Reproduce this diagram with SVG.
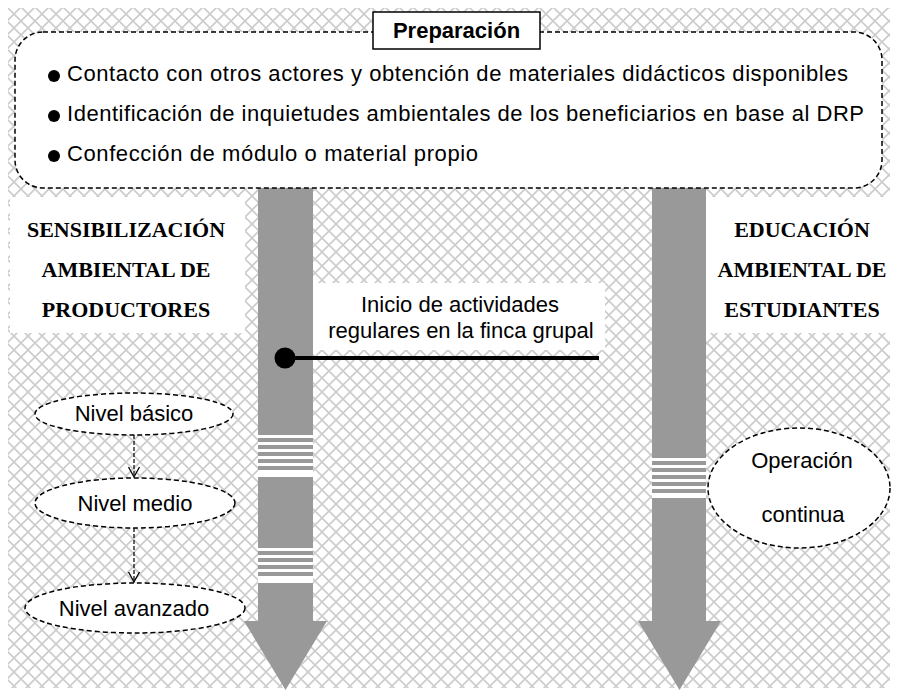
<svg xmlns="http://www.w3.org/2000/svg" width="897" height="692" viewBox="0 0 897 692">
<defs>
<pattern id="hatch" width="14" height="14" patternUnits="userSpaceOnUse">
<rect width="14" height="14" fill="#ffffff"/>
<path d="M-1,-1 L15,15 M15,-1 L-1,15" stroke="#cccccc" stroke-width="1.6" fill="none"/>
</pattern>
<marker id="vhead" markerWidth="14" markerHeight="14" refX="11" refY="7" orient="auto" markerUnits="userSpaceOnUse">
<path d="M1,1.5 L11,7 L1,12.5" fill="none" stroke="#000" stroke-width="1.3"/>
</marker>
</defs>
<style>
.sans{font-family:"Liberation Sans",Arial,sans-serif;font-size:22px;fill:#000}
.serif{font-family:"Liberation Serif","Times New Roman",serif;font-size:22px;font-weight:bold;fill:#000}
.dash{fill:#fff;stroke:#000;stroke-width:1.5;stroke-dasharray:5,3}
.shaft{fill:#999999}
.band{fill:#999999}
.white{fill:#ffffff}
</style>
<rect width="897" height="692" fill="#ffffff"/>
<rect x="8" y="8" width="882" height="680" fill="url(#hatch)"/>

<g id="arrow-left">
<rect class="shaft" x="258" y="180" width="55" height="442"/>
<polygon class="shaft" points="244,621 327,621 285.5,690"/>
<rect class="white" x="258" y="435" width="55" height="42"/>
<rect class="band" x="258" y="438" width="55" height="4"/>
<rect class="band" x="258" y="445" width="55" height="4"/>
<rect class="band" x="258" y="452" width="55" height="4"/>
<rect class="band" x="258" y="459" width="55" height="4"/>
<rect class="band" x="258" y="466" width="55" height="4"/>
<rect class="white" x="258" y="548" width="55" height="35"/>
<rect class="band" x="258" y="551" width="55" height="4"/>
<rect class="band" x="258" y="558" width="55" height="4"/>
<rect class="band" x="258" y="565" width="55" height="4"/>
<rect class="band" x="258" y="572" width="55" height="4"/>
</g>

<g id="arrow-right">
<rect class="shaft" x="652" y="180" width="54" height="442"/>
<polygon class="shaft" points="638,621 721,621 679.5,690"/>
<rect class="white" x="652" y="458" width="54" height="40"/>
<rect class="band" x="652" y="461" width="54" height="4"/>
<rect class="band" x="652" y="468" width="54" height="4"/>
<rect class="band" x="652" y="475" width="54" height="4"/>
<rect class="band" x="652" y="482" width="54" height="4"/>
<rect class="band" x="652" y="489" width="54" height="4"/>
</g>

<g id="preparacion">
<rect class="dash" x="15" y="32" width="867" height="156" rx="28" ry="28"/>
<rect x="373" y="12" width="167" height="37" fill="#fff" stroke="#000" stroke-width="1.5"/>
<text class="sans" x="456.5" y="37.5" text-anchor="middle" font-weight="bold">Preparación</text>
<circle cx="54" cy="76" r="6"/>
<text class="sans" x="67" y="81" textLength="781" lengthAdjust="spacing">Contacto con otros actores y obtención de materiales didácticos disponibles</text>
<circle cx="54" cy="116" r="6"/>
<text class="sans" x="67" y="121" textLength="797" lengthAdjust="spacing">Identificación de inquietudes ambientales de los beneficiarios en base al DRP</text>
<circle cx="54" cy="156" r="6"/>
<text class="sans" x="67" y="161" textLength="411" lengthAdjust="spacing">Confección de módulo o material propio</text>
</g>

<g id="label-productores">
<rect class="white" x="10" y="197" width="235" height="136"/>
<text class="serif" x="126" y="237" text-anchor="middle">SENSIBILIZACIÓN</text>
<text class="serif" x="126" y="277" text-anchor="middle">AMBIENTAL DE</text>
<text class="serif" x="126" y="317" text-anchor="middle">PRODUCTORES</text>
</g>

<g id="label-estudiantes">
<rect class="white" x="706" y="197" width="184" height="136"/>
<text class="serif" x="802" y="237" text-anchor="middle">EDUCACIÓN</text>
<text class="serif" x="802" y="277" text-anchor="middle">AMBIENTAL DE</text>
<text class="serif" x="802" y="317" text-anchor="middle">ESTUDIANTES</text>
</g>

<g id="inicio">
<rect class="white" x="313" y="283" width="292" height="67"/>
<text class="sans" x="460" y="312" text-anchor="middle">Inicio de actividades</text>
<text class="sans" x="461" y="338" text-anchor="middle">regulares en la finca grupal</text>
</g>

<g id="connectors">
<line x1="285" y1="358" x2="599" y2="358" stroke="#000" stroke-width="4"/>
<circle cx="285" cy="358" r="10.5" fill="#000"/>
<line x1="134" y1="435" x2="134" y2="477" stroke="#000" stroke-width="1.2" stroke-dasharray="4,2" marker-end="url(#vhead)"/>
<line x1="134" y1="528" x2="134" y2="582" stroke="#000" stroke-width="1.2" stroke-dasharray="4,2" marker-end="url(#vhead)"/>
</g>

<g id="nivel-basico">
<ellipse class="dash" cx="134" cy="414" rx="99" ry="21"/>
<text class="sans" x="134" y="421" text-anchor="middle">Nivel básico</text>
</g>
<g id="nivel-medio">
<ellipse class="dash" cx="135" cy="503" rx="100" ry="25"/>
<text class="sans" x="135" y="511" text-anchor="middle">Nivel medio</text>
</g>
<g id="nivel-avanzado">
<ellipse class="dash" cx="135" cy="608" rx="110" ry="25"/>
<text class="sans" x="134" y="616" text-anchor="middle">Nivel avanzado</text>
</g>
<g id="operacion">
<ellipse class="dash" cx="799" cy="488" rx="91" ry="60"/>
<text class="sans" x="802" y="468" text-anchor="middle">Operación</text>
<text class="sans" x="803" y="522" text-anchor="middle">continua</text>
</g>
</svg>
